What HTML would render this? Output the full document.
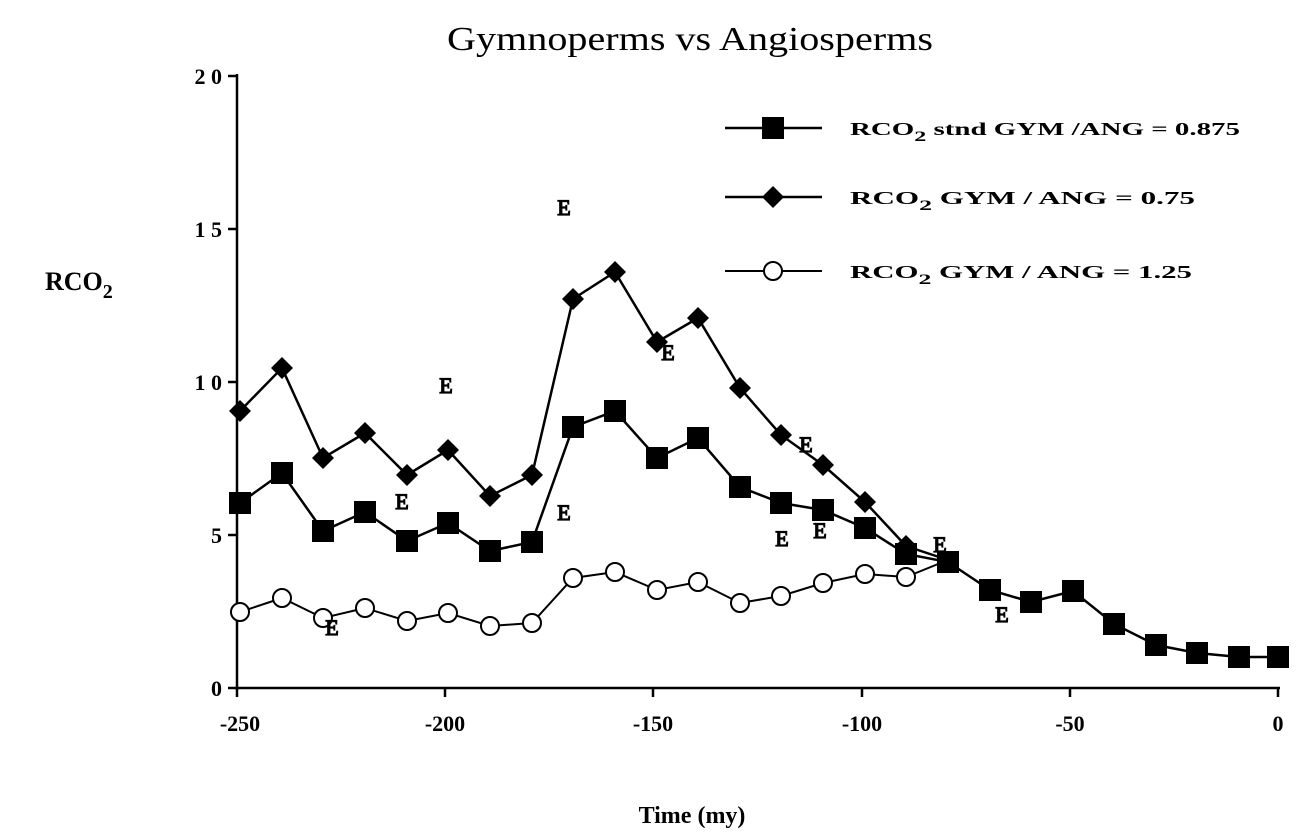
<!DOCTYPE html>
<html><head><meta charset="utf-8"><style>
html,body{margin:0;padding:0;background:#fff;}
svg{display:block;}
text{font-family:"Liberation Serif",serif;fill:#000;}
</style></head><body>
<svg width="1313" height="834" viewBox="0 0 1313 834" xmlns="http://www.w3.org/2000/svg">
<text x="447" y="50" font-size="34" textLength="486" lengthAdjust="spacingAndGlyphs">Gymnoperms vs Angiosperms</text>
<line x1="237" y1="74" x2="237" y2="690" stroke="#000" stroke-width="2.5"/>
<line x1="236" y1="688" x2="1280" y2="688" stroke="#000" stroke-width="2.5"/>
<g stroke="#000" stroke-width="2.5">
<line x1="228" y1="76" x2="237" y2="76"/><line x1="228" y1="229" x2="237" y2="229"/>
<line x1="228" y1="382" x2="237" y2="382"/><line x1="228" y1="535" x2="237" y2="535"/>
<line x1="228" y1="688" x2="237" y2="688"/>
<line x1="237" y1="688" x2="237" y2="697"/><line x1="445" y1="688" x2="445" y2="697"/>
<line x1="653" y1="688" x2="653" y2="697"/><line x1="862" y1="688" x2="862" y2="697"/>
<line x1="1070" y1="688" x2="1070" y2="697"/><line x1="1278" y1="688" x2="1278" y2="697"/>
</g>
<g font-size="22" font-weight="bold" text-anchor="end">
<text x="222" y="84">2 0</text><text x="222" y="237">1 5</text><text x="222" y="390">1 0</text>
<text x="222" y="543">5</text><text x="222" y="696">0</text>
</g>
<g font-size="22" font-weight="bold" text-anchor="middle">
<text x="240" y="731">-250</text><text x="445" y="731">-200</text><text x="653" y="731">-150</text>
<text x="862" y="731">-100</text><text x="1070" y="731">-50</text><text x="1278" y="731">0</text>
</g>
<text x="692" y="823" font-size="24" font-weight="bold" text-anchor="middle">Time  (my)</text>
<text x="45" y="290" font-size="26" font-weight="bold">RCO<tspan dy="8" font-size="20">2</tspan></text>

<polyline fill="none" stroke="#000" stroke-width="2" points="240,612 282,598 323,618 365,608 407,621 448,613 490,626 532,623 573,578 615,572 657,590 698,582 740,603 781,596 823,583 865,574 906,577 948,560"/>
<polyline fill="none" stroke="#000" stroke-width="2.5" points="240,411 282,368 323,458 365,433 407,475 448,450 490,496 532,475 573,299 615,272 657,342 698,318 740,388 781,435 823,465 865,502 906,546 948,560"/>
<polyline fill="none" stroke="#000" stroke-width="2.5" points="240,503 282,473 323,531 365,512 407,541 448,523 490,551 532,542 573,427 615,411 657,458 698,438 740,487 781,503 823,510 865,528 906,554 948,562 990,590 1031,602 1073,591 1114,624 1156,645 1197,653 1239,657 1278,657"/>
<g fill="#fff" stroke="#000" stroke-width="2">
<circle cx="240" cy="612" r="9"/><circle cx="282" cy="598" r="9"/><circle cx="323" cy="618" r="9"/><circle cx="365" cy="608" r="9"/><circle cx="407" cy="621" r="9"/><circle cx="448" cy="613" r="9"/><circle cx="490" cy="626" r="9"/><circle cx="532" cy="623" r="9"/><circle cx="573" cy="578" r="9"/><circle cx="615" cy="572" r="9"/><circle cx="657" cy="590" r="9"/><circle cx="698" cy="582" r="9"/><circle cx="740" cy="603" r="9"/><circle cx="781" cy="596" r="9"/><circle cx="823" cy="583" r="9"/><circle cx="865" cy="574" r="9"/><circle cx="906" cy="577" r="9"/>
</g>
<g fill="#000">
<path d="M240,400 l11,11 l-11,11 l-11,-11z"/><path d="M282,357 l11,11 l-11,11 l-11,-11z"/><path d="M323,447 l11,11 l-11,11 l-11,-11z"/><path d="M365,422 l11,11 l-11,11 l-11,-11z"/><path d="M407,464 l11,11 l-11,11 l-11,-11z"/><path d="M448,439 l11,11 l-11,11 l-11,-11z"/><path d="M490,485 l11,11 l-11,11 l-11,-11z"/><path d="M532,464 l11,11 l-11,11 l-11,-11z"/><path d="M573,288 l11,11 l-11,11 l-11,-11z"/><path d="M615,261 l11,11 l-11,11 l-11,-11z"/><path d="M657,331 l11,11 l-11,11 l-11,-11z"/><path d="M698,307 l11,11 l-11,11 l-11,-11z"/><path d="M740,377 l11,11 l-11,11 l-11,-11z"/><path d="M781,424 l11,11 l-11,11 l-11,-11z"/><path d="M823,454 l11,11 l-11,11 l-11,-11z"/><path d="M865,491 l11,11 l-11,11 l-11,-11z"/><path d="M906,535 l11,11 l-11,11 l-11,-11z"/>
<rect x="229" y="492" width="22" height="22"/><rect x="271" y="462" width="22" height="22"/><rect x="312" y="520" width="22" height="22"/><rect x="354" y="501" width="22" height="22"/><rect x="396" y="530" width="22" height="22"/><rect x="437" y="512" width="22" height="22"/><rect x="479" y="540" width="22" height="22"/><rect x="521" y="531" width="22" height="22"/><rect x="562" y="416" width="22" height="22"/><rect x="604" y="400" width="22" height="22"/><rect x="646" y="447" width="22" height="22"/><rect x="687" y="427" width="22" height="22"/><rect x="729" y="476" width="22" height="22"/><rect x="770" y="492" width="22" height="22"/><rect x="812" y="499" width="22" height="22"/><rect x="854" y="517" width="22" height="22"/><rect x="895" y="543" width="22" height="22"/><rect x="937" y="551" width="22" height="22"/><rect x="979" y="579" width="22" height="22"/><rect x="1020" y="591" width="22" height="22"/><rect x="1062" y="580" width="22" height="22"/><rect x="1103" y="613" width="22" height="22"/><rect x="1145" y="634" width="22" height="22"/><rect x="1186" y="642" width="22" height="22"/><rect x="1228" y="646" width="22" height="22"/><rect x="1267" y="646" width="22" height="22"/>
</g>
<g font-size="22" font-family="Liberation Sans, sans-serif" text-anchor="middle" fill="#fff" stroke="#000" stroke-width="1.2">
<text x="564" y="215">E</text><text x="446" y="393">E</text><text x="402" y="509">E</text><text x="668" y="360">E</text><text x="564" y="520">E</text><text x="332" y="635">E</text><text x="806" y="452">E</text><text x="782" y="546">E</text><text x="820" y="538">E</text><text x="940" y="552">E</text><text x="1002" y="622">E</text>
</g>
<line x1="725" y1="128" x2="822" y2="128" stroke="#000" stroke-width="2.5"/>
<rect x="762" y="117" width="22" height="22" fill="#000"/>
<line x1="725" y1="197" x2="822" y2="197" stroke="#000" stroke-width="2.5"/>
<path d="M773,186 l11,11 l-11,11 l-11,-11z" fill="#000"/>
<line x1="725" y1="271" x2="822" y2="271" stroke="#000" stroke-width="2"/>
<circle cx="773" cy="271" r="9" fill="#fff" stroke="#000" stroke-width="2"/>
<g font-size="18" font-weight="bold">
<text x="850" y="135" textLength="390" lengthAdjust="spacingAndGlyphs">RCO<tspan dy="6" font-size="15">2</tspan><tspan dy="-6">  stnd  GYM  /ANG  =  0.875</tspan></text>
<text x="850" y="204" textLength="345" lengthAdjust="spacingAndGlyphs">RCO<tspan dy="6" font-size="15">2</tspan><tspan dy="-6">  GYM  /  ANG  =  0.75</tspan></text>
<text x="850" y="278" textLength="342" lengthAdjust="spacingAndGlyphs">RCO<tspan dy="6" font-size="15">2</tspan><tspan dy="-6">  GYM  /  ANG  =  1.25</tspan></text>
</g>
</svg>
</body></html>
